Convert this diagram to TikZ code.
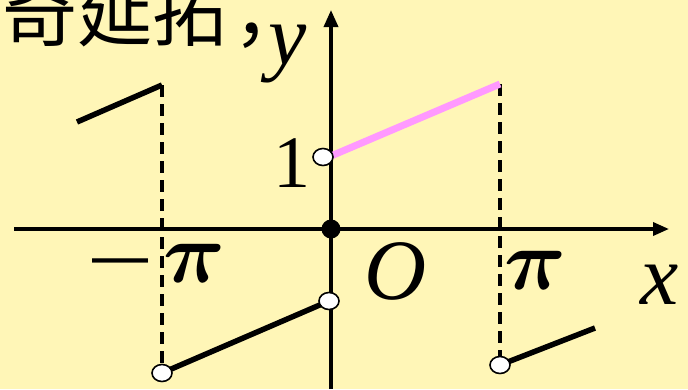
\RequirePackage{fix-cm}
\documentclass[tikz,border=0pt]{standalone}
\usepackage{bm}
\usepackage{fontspec}
\setmainfont{Liberation Serif}
\newfontfamily\cjk{Noto Sans CJK SC}
\usetikzlibrary{arrows.meta,shapes.geometric}
\definecolor{bgyellow}{RGB}{255,246,183}
\definecolor{pinkline}{RGB}{255,153,255}
\tikzset{
  axisline/.style={line width=3.5pt},
  guide/.style={line width=3.6pt,dash pattern=on 12pt off 7pt},
  seg/.style={line width=5.5pt},
  pinkseg/.style={line width=7pt,draw=pinkline},
  opencirc/.style={ellipse,draw,fill=white,line width=1.6pt,minimum width=20pt,minimum height=17pt,inner sep=0pt},
  solidcirc/.style={circle,fill=black,minimum size=19pt,inner sep=0pt},
  lbl/.style={inner sep=0pt,anchor=base,font=\fontsize{86}{90}\selectfont},
}
\begin{document}
\begin{tikzpicture}[x=1pt,y=-1pt]
\useasboundingbox (0,0) rectangle (688,389);
\fill[bgyellow] (0,0) rectangle (688,389);
% coordinates
\coordinate (xs) at (14,229);
\coordinate (xe) at (669,229);
\coordinate (ys) at (331,389);
\coordinate (ye) at (331,10);
\coordinate (lt) at (162,85);
\coordinate (ltl) at (77,122);
\coordinate (lb) at (162,373);
\coordinate (rt) at (500,84);
\coordinate (rb) at (500,365);
\coordinate (rbe) at (595,328);
\coordinate (zb) at (329,301);
\coordinate (one) at (323,157);
\coordinate (pstart) at (331,156);
% guides
\draw[guide] (lt) -- (lb);
\draw[guide] (rt) -- (rb);
% axes
\draw[axisline,-{Triangle[length=16pt,width=13pt]}] (xs) -- (xe);
\draw[axisline,-{Triangle[length=17pt,width=14pt]}] (ys) -- (ye);
% graph pieces
\draw[seg] (ltl) -- (lt);
\draw[seg] (lb) -- (zb);
\draw[seg] (rb) -- (rbe);
\draw[pinkseg] (pstart) -- (rt);
% end points
\node[opencirc] (c1) at (lb) {};
\node[opencirc] (c2) at (zb) {};
\node[opencirc] (c3) at (one) {};
\node[opencirc] (c4) at (rb) {};
\node[solidcirc] (o) at (331,229) {};
% labels
\node[lbl] (minus) at (120,289) {\scalebox{1.4}[1]{−}};
\node[lbl] (lpi) at (194,282) {$\bm{\pi}$};
\node[lbl] (rpi) at (535,289) {$\bm{\pi}$};
\node[lbl] (olbl) at (396,299) {\itshape O};
\node[lbl] (xlbl) at (660,304) {\itshape x};
\node[lbl] (ylbl) at (288,64) {\itshape y};
\node[inner sep=0pt,anchor=base,font=\fontsize{74}{76}\selectfont] (onelbl) at (292,187) {1};
\node[inner sep=0pt,anchor=base west,font=\cjk\fontsize{75}{78}\selectfont] (title) at (2,40) {奇延拓\kern6pt，};
\end{tikzpicture}
\end{document}
